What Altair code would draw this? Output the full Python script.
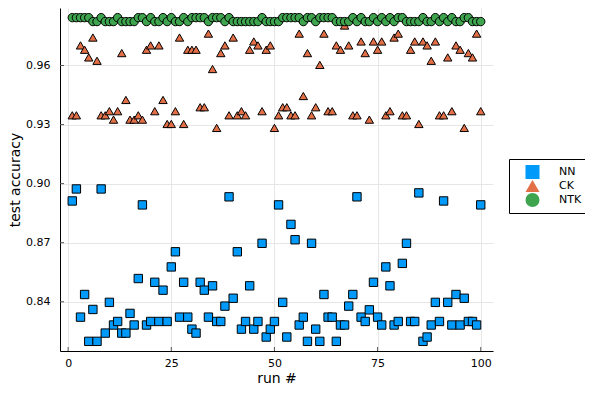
import altair as alt
import pandas as pd

runs = list(range(1, 101))

nn = [0.8912, 0.8973, 0.8322, 0.8437, 0.8199, 0.8361, 0.8199, 0.8973, 0.8241, 0.8397,
      0.8282, 0.8300, 0.8241, 0.8241, 0.8341, 0.8282, 0.8518, 0.8892, 0.8282, 0.8300,
      0.8499, 0.8300, 0.8459, 0.8300, 0.8577, 0.8654, 0.8322, 0.8499, 0.8322, 0.8261,
      0.8241, 0.8499, 0.8459, 0.8322, 0.8481, 0.8300, 0.8300, 0.8378, 0.8933, 0.8418,
      0.8654, 0.8261, 0.8300, 0.8481, 0.8261, 0.8300, 0.8697, 0.8221, 0.8261, 0.8300,
      0.8892, 0.8397, 0.8221, 0.8793, 0.8715, 0.8282, 0.8322, 0.8199, 0.8697, 0.8261,
      0.8199, 0.8437, 0.8322, 0.8322, 0.8199, 0.8282, 0.8282, 0.8378, 0.8437, 0.8933,
      0.8322, 0.8300, 0.8359, 0.8499, 0.8322, 0.8282, 0.8577, 0.8481, 0.8282, 0.8300,
      0.8595, 0.8697, 0.8300, 0.8300, 0.8953, 0.8199, 0.8221, 0.8282, 0.8397, 0.8300,
      0.8912, 0.8397, 0.8282, 0.8437, 0.8282, 0.8418, 0.8300, 0.8300, 0.8282, 0.8892]

ck = [0.9347, 0.9347, 0.9702, 0.9680, 0.9641, 0.9742, 0.9624, 0.9347, 0.9347, 0.9368,
      0.9325, 0.9368, 0.9663, 0.9425, 0.9325, 0.9325, 0.9347, 0.9325, 0.9680, 0.9702,
      0.9368, 0.9702, 0.9425, 0.9303, 0.9303, 0.9368, 0.9742, 0.9303, 0.9680, 0.9680,
      0.9680, 0.9388, 0.9388, 0.9762, 0.9582, 0.9283, 0.9663, 0.9702, 0.9347, 0.9742,
      0.9347, 0.9368, 0.9347, 0.9680, 0.9722, 0.9702, 0.9368, 0.9680, 0.9702, 0.9283,
      0.9347, 0.9388, 0.9388, 0.9347, 0.9347, 0.9762, 0.9445, 0.9663, 0.9347, 0.9388,
      0.9603, 0.9762, 0.9368, 0.9368, 0.9702, 0.9680, 0.9803, 0.9702, 0.9347, 0.9347,
      0.9722, 0.9663, 0.9325, 0.9722, 0.9680, 0.9722, 0.9347, 0.9368, 0.9742, 0.9762,
      0.9347, 0.9347, 0.9680, 0.9722, 0.9303, 0.9722, 0.9702, 0.9624, 0.9722, 0.9347,
      0.9347, 0.9641, 0.9368, 0.9702, 0.9680, 0.9283, 0.9663, 0.9641, 0.9762, 0.9368]

ntk = [0.9843, 0.9843, 0.9843, 0.9843, 0.9843, 0.9823, 0.9823, 0.9843, 0.9823, 0.9823,
       0.9823, 0.9843, 0.9823, 0.9823, 0.9823, 0.9823, 0.9843, 0.9843, 0.9823, 0.9843,
       0.9823, 0.9823, 0.9843, 0.9823, 0.9843, 0.9823, 0.9823, 0.9843, 0.9823, 0.9843,
       0.9843, 0.9843, 0.9843, 0.9823, 0.9843, 0.9843, 0.9843, 0.9823, 0.9843, 0.9823,
       0.9823, 0.9823, 0.9823, 0.9823, 0.9823, 0.9823, 0.9843, 0.9823, 0.9823, 0.9823,
       0.9823, 0.9843, 0.9843, 0.9843, 0.9843, 0.9843, 0.9823, 0.9843, 0.9843, 0.9823,
       0.9843, 0.9843, 0.9843, 0.9843, 0.9823, 0.9823, 0.9823, 0.9823, 0.9843, 0.9823,
       0.9843, 0.9823, 0.9823, 0.9843, 0.9823, 0.9843, 0.9823, 0.9843, 0.9823, 0.9843,
       0.9843, 0.9823, 0.9823, 0.9823, 0.9823, 0.9843, 0.9823, 0.9823, 0.9843, 0.9823,
       0.9843, 0.9823, 0.9843, 0.9823, 0.9823, 0.9843, 0.9843, 0.9823, 0.9823, 0.9823]

series_names = ["NN", "CK", "NTK"]
series_colors = ["#009AFA", "#E36F47", "#3EA44E"]
series_shapes = ["square", "triangle-up", "circle"]
x_ticks = [0, 25, 50, 75, 100]
y_ticks = [0.84, 0.87, 0.90, 0.93, 0.96]

rows = []
for name, vals in zip(series_names, [nn, ck, ntk]):
    for r, v in zip(runs, vals):
        rows.append({"run": r, "acc": v, "series": name})
df = pd.DataFrame(rows)
df["order"] = range(len(df))

xs = alt.Scale(domain=[-1.97, 102.97], nice=False, zero=False)
ys = alt.Scale(domain=[0.8150, 0.9892], nice=False, zero=False)

FONT = "DejaVu Sans"

x_axis = alt.Axis(values=x_ticks, title="run #", labelPadding=6, titlePadding=3, format="d")
y_axis = alt.Axis(values=y_ticks, title="test accuracy", format=".2f", labelPadding=10, titlePadding=3)

legend = alt.Legend(
    title=None, orient="none", legendX=449, legendY=151,
    padding=6, strokeColor="black", fillColor="white", rowPadding=0, clipHeight=14,
    symbolSize=196, symbolOffset=10, labelOffset=19,
    labelFont=FONT, labelFontSize=11, labelColor="black",
    symbolStrokeColor="black", symbolStrokeWidth=1, symbolOpacity=1,
)

points = alt.Chart(df).mark_point(
    filled=True, opacity=1, stroke="black", strokeWidth=1, size=70
).encode(
    x=alt.X("run:Q", scale=xs, axis=x_axis),
    y=alt.Y("acc:Q", scale=ys, axis=y_axis),
    fill=alt.Fill("series:N", scale=alt.Scale(domain=series_names, range=series_colors), legend=legend),
    shape=alt.Shape("series:N", scale=alt.Scale(domain=series_names, range=series_shapes), legend=legend),
    order=alt.Order("order:Q"),
)

ytick_layer = alt.Chart(pd.DataFrame({"v": y_ticks})).mark_rule(
    color="#555555", strokeWidth=1
).encode(
    y=alt.Y("v:Q", scale=ys, axis=y_axis),
    x=alt.value(0), x2=alt.value(4),
)

xtick_layer = alt.Chart(pd.DataFrame({"v": x_ticks})).mark_rule(
    color="#555555", strokeWidth=1
).encode(
    x=alt.X("v:Q", scale=xs, axis=x_axis),
    y=alt.value(343), y2=alt.value(339),
)

chart = alt.layer(points, ytick_layer, xtick_layer).properties(
    width=433, height=343,
    padding={"left": 52, "top": 0, "right": 92, "bottom": 35},
    autosize=alt.AutoSizeParams(type="none"),
).configure_view(stroke=None).configure_axis(
    labelFont=FONT, labelFontSize=11, labelColor="black",
    titleFont=FONT, titleFontSize=14, titleFontWeight="normal", titleColor="black",
    domainColor="black", domainWidth=1,
    gridColor="#e6e6e6", gridWidth=1, ticks=False,
).configure_legend(
    strokeWidth=1, cornerRadius=0, symbolSize=196,
    symbolStrokeColor="black", symbolStrokeWidth=1,
)

chart.save("out.html", embed_options={"renderer": "svg", "actions": False})
